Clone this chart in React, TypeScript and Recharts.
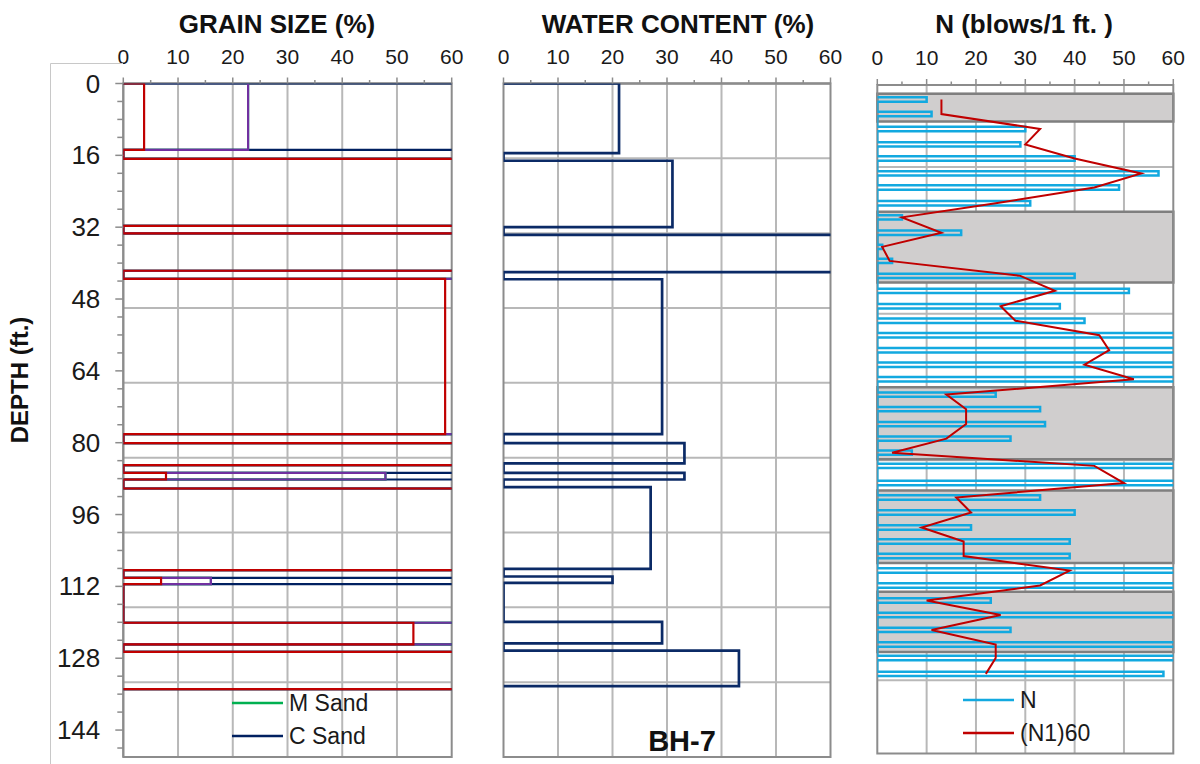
import { ScatterChart, Scatter, XAxis, YAxis, CartesianGrid, ReferenceArea, Legend } from 'recharts';

const FONT = '"Liberation Sans", Arial, sans-serif';

// ---- grain size (cumulative %, one outline per sample interval) ----
const grainTop = [0, 16.8, 33.4, 43.5, 80.1, 86.7, 90.2, 110.1, 120.1, 126.6];
const grainBottom = [14.8, 31.7, 41.7, 78.1, 85.0, 88.2, 108.4, 111.5, 124.9, 134.9];
const finesCum = [3.8, 100, 100, 58.8, 100, 7.8, 100, 6.9, 53, 100];
const fSandCum = [22.8, 100, 100, 100, 100, 47.9, 100, 16, 100, 100];
const mSandCum = [22.8, 100, 100, 100, 100, 47.9, 100, 16, 100, 100];
const cSandCum = [100, 100, 100, 100, 100, 100, 100, 100, 100, 100];

// ---- water content ----
const wcTop = [0, 17.2, 33.7, 43.6, 80.1, 86.7, 89.9, 109.8, 119.9, 126.3];
const wcBottom = [15.5, 32.0, 42.0, 78.1, 84.6, 88.2, 108.1, 111.2, 124.7, 134.2];
const waterContent = [21.2, 31, 75, 29.1, 33.2, 33.2, 27, 20, 29.1, 43.2];

// ---- SPT ----
const nDepth = [1.3, 4.6, 8.0, 11.5, 14.7, 18.1, 21.3, 24.9, 28.1, 31.6, 34.8, 38.0, 41.4, 44.8, 48.3, 51.6, 54.9, 58.3, 61.6, 64.9,
    68.4, 71.7, 75.1, 78.4, 81.6, 84.6, 88.5, 91.8, 95.2, 98.6, 101.8, 105.1, 108.4, 111.8, 115.2, 118.5, 121.9, 125.2, 128.3, 131.9];
const nBlows = [10, 11, 30, 29, 40, 57, 49, 31, 5, 17, 1, 3, 40, 51, 37, 42, 100, 100, 100, 100,
    24, 33, 34, 27, 7, 100, 100, 33, 40, 19, 39, 39, 100, 100, 23, 100, 27, 100, 100, 58];
const n160 = [13, 13, 33, 30, 40, 53.5, 44, 24, 5, 13, 1, 2.5, 29, 36, 25, 28, 45, 47, 42, 52,
    14, 18, 18, 14, 3, 44, 50, 16, 19, 9, 17.5, 17.5, 39, 33, 10, 25, 11, 24, 24, 22];
const layerTop = [0, 26.8, 66.7, 90.2, 113.2];
const layerBottom = [6.3, 42.9, 83.1, 106.7, 126.9];

// ---- axes ----
const pctTicks = [0, 5, 10, 15, 20, 25, 30, 35, 40, 45, 50, 55, 60];
const pctGrid = [10, 20, 30, 40, 50];
const depthTicks = [0, 4, 8, 12, 16, 20, 24, 28, 32, 36, 40, 44, 48, 52, 56, 60, 64, 68, 72, 76, 80, 84, 88, 92, 96, 100,
    104, 108, 112, 116, 120, 124, 128, 132, 136, 140, 144, 148];
const depthGrid = [0, 16.67, 33.33, 50, 66.67, 83.33, 100, 116.67, 133.33];

const grainLegend = [
    { name: 'M Sand', color: '#00B050' },
    { name: 'C Sand', color: '#002060' },
];
const nLegend = [
    { name: 'N', color: '#12A9E0' },
    { name: '(N1)60', color: '#C00000' },
];

const AXIS = { stroke: '#8C8C8C', strokeWidth: 2 };
const GRID = '#B8B8B8';

// closed outline per interval, joined along the zero line
function outline(tops: number[], bottoms: number[], vals: number[]) {
    const pts: { x: number; y: number }[] = [];
    vals.forEach((v, i) => {
        pts.push({ x: 0, y: tops[i] }, { x: v, y: tops[i] }, { x: v, y: bottoms[i] }, { x: 0, y: bottoms[i] });
    });
    return pts;
}

const noDot = () => <g />;

function TopTick(props: any) {
    const { x, y, payload } = props;
    const major = payload.value % 10 === 0;
    const axisY = y + 20;
    return (
        <g>
            <line x1={x} x2={x} y1={axisY} y2={axisY - (major ? 6 : 3.5)} stroke="#8C8C8C" strokeWidth={1.5} />
            {major && (
                <text x={x} y={y} textAnchor="middle" fontSize={21} fill="#1a1a1a" fontFamily={FONT}>
                    {payload.value}
                </text>
            )}
        </g>
    );
}

function DepthTick(props: any) {
    const { x, y, payload } = props;
    const major = payload.value % 16 === 0;
    const axisX = x + 23;
    return (
        <g>
            <line x1={axisX} x2={axisX - (major ? 8 : 6)} y1={y} y2={y} stroke="#8C8C8C" strokeWidth={1.5} />
            {major && (
                <text x={x} y={y} dy="0.35em" textAnchor="end" fontSize={26} fill="#1a1a1a" fontFamily={FONT}>
                    {payload.value}
                </text>
            )}
        </g>
    );
}

function LegendBox({ items }: { items: { name: string; color: string }[] }) {
    return (
        <svg width={170} height={70}>
            {items.map((it, i) => (
                <g key={it.name}>
                    <line x1={8} x2={59} y1={18 + i * 33} y2={18 + i * 33} stroke={it.color} strokeWidth={2.5} />
                    <text x={65} y={18 + i * 33} dy="0.36em" fontSize={23} fill="#1a1a1a" fontFamily={FONT}>
                        {it.name}
                    </text>
                </g>
            ))}
        </svg>
    );
}

function GrainChart() {
    return (
        <ScatterChart width={470} height={764} margin={{ top: 43.5, right: 18.3, bottom: 7, left: 23.3 }}>
            <CartesianGrid stroke={GRID} strokeWidth={2} horizontalValues={depthGrid} verticalValues={pctGrid} />
            <XAxis type="number" dataKey="x" orientation="top" domain={[0, 60]} ticks={pctTicks} interval={0}
                allowDataOverflow height={40} tickSize={6} tickMargin={14} tickLine={false}
                tick={(p: any) => <TopTick {...p} />} axisLine={AXIS} />
            <YAxis type="number" dataKey="y" domain={[0, 150]} reversed ticks={depthTicks} interval={0}
                allowDataOverflow width={100} tickSize={8} tickMargin={15} tickLine={false}
                tick={(p: any) => <DepthTick {...p} />} axisLine={AXIS} />
            <ReferenceArea x1={0} x2={60} y1={0} y2={150} fill="none" stroke="#8C8C8C" strokeWidth={2} />
            <Scatter name="C Sand" data={outline(grainTop, grainBottom, cSandCum)} shape={noDot}
                line={{ stroke: '#002060', strokeWidth: 2.2 }} isAnimationActive={false} />
            <Scatter name="M Sand" data={outline(grainTop, grainBottom, mSandCum)} shape={noDot}
                line={{ stroke: '#00B050', strokeWidth: 2.2 }} isAnimationActive={false} />
            <Scatter name="F Sand" data={outline(grainTop, grainBottom, fSandCum)} shape={noDot}
                line={{ stroke: '#7030A0', strokeWidth: 2.2 }} isAnimationActive={false} />
            <Scatter name="Fines" data={outline(grainTop, grainBottom, finesCum)} shape={noDot}
                line={{ stroke: '#C00000', strokeWidth: 2.2 }} isAnimationActive={false} />
            <Legend layout="vertical" align="center" verticalAlign="middle"
                wrapperStyle={{ left: 224, top: 685, width: 170 }}
                content={() => <LegendBox items={grainLegend} />} />
        </ScatterChart>
    );
}

function WaterChart() {
    return (
        <ScatterChart width={380} height={764} margin={{ top: 43.5, right: 19.5, bottom: 7, left: 33.5 }}>
            <CartesianGrid stroke={GRID} strokeWidth={2} horizontalValues={depthGrid} verticalValues={pctGrid} />
            <XAxis type="number" dataKey="x" orientation="top" domain={[0, 60]} ticks={pctTicks} interval={0}
                allowDataOverflow height={40} tickSize={6} tickMargin={14} tickLine={false}
                tick={(p: any) => <TopTick {...p} />} axisLine={AXIS} />
            <YAxis type="number" dataKey="y" domain={[0, 150]} reversed hide allowDataOverflow />
            <ReferenceArea x1={0} x2={60} y1={0} y2={150} fill="none" stroke="#8C8C8C" strokeWidth={2} />
            <Scatter name="Water content" data={outline(wcTop, wcBottom, waterContent)} shape={noDot}
                line={{ stroke: '#0B2A66', strokeWidth: 2.7 }} isAnimationActive={false} />
        </ScatterChart>
    );
}

function SptChart() {
    const bars = outline(nDepth.map(d => d - 0.5), nDepth.map(d => d + 0.5), nBlows);
    const corrected = nDepth.map((d, i) => ({ x: n160[i], y: d }));
    return (
        <ScatterChart width={350} height={764} margin={{ top: 45, right: 26.7, bottom: 10.5, left: 27.3 }}>
            <CartesianGrid stroke={GRID} strokeWidth={2} horizontalValues={depthGrid} verticalValues={pctGrid} />
            <XAxis type="number" dataKey="x" orientation="top" domain={[0, 60]} ticks={pctTicks} interval={0}
                allowDataOverflow height={40} tickSize={6} tickMargin={14} tickLine={false}
                tick={(p: any) => <TopTick {...p} />} axisLine={AXIS} />
            <YAxis type="number" dataKey="y" domain={[-2, 150]} reversed hide allowDataOverflow />
            {layerTop.map((t, i) => (
                <ReferenceArea key={i} x1={0} x2={60} y1={t} y2={layerBottom[i]} fill="#D0CECE" fillOpacity={1}
                    stroke="#7F7F7F" strokeWidth={2.5} />
            ))}
            <ReferenceArea x1={0} x2={60} y1={-2} y2={150} fill="none" stroke="#8C8C8C" strokeWidth={2} />
            <Scatter name="N" data={bars} shape={noDot}
                line={{ stroke: '#12A9E0', strokeWidth: 2.5 }} isAnimationActive={false} />
            <Scatter name="(N1)60" data={corrected} shape={noDot}
                line={{ stroke: '#C00000', strokeWidth: 2 }} isAnimationActive={false} />
            <Legend layout="vertical" align="center" verticalAlign="middle"
                wrapperStyle={{ left: 105, top: 682, width: 170 }}
                content={() => <LegendBox items={nLegend} />} />
        </ScatterChart>
    );
}

export default function App() {
    return (
        <div style={{ position: 'absolute', left: 0, top: 0, width: 1200, height: 764, background: '#fff', fontFamily: FONT }}>
            <div style={{ position: 'absolute', left: 0, top: 0 }}><GrainChart /></div>
            <div style={{ position: 'absolute', left: 470, top: 0 }}><WaterChart /></div>
            <div style={{ position: 'absolute', left: 850, top: 0 }}><SptChart /></div>
            <svg width={1200} height={764} style={{ position: 'absolute', left: 0, top: 0, pointerEvents: 'none' }}>
                <path d="M50.5,764 V63.5 H123" fill="none" stroke="#C8C8C8" strokeWidth={1} />
                <text x={277} y={33} textAnchor="middle" fontSize={26} fontWeight="bold" fill="#111" fontFamily={FONT}>GRAIN SIZE (%)</text>
                <text x={678} y={33} textAnchor="middle" fontSize={26} fontWeight="bold" fill="#111" fontFamily={FONT}>WATER CONTENT (%)</text>
                <text x={1024} y={33} textAnchor="middle" fontSize={26} fontWeight="bold" fill="#111" fontFamily={FONT}>N (blows/1 ft. )</text>
                <text x={682} y={751} textAnchor="middle" fontSize={29} fontWeight="bold" fill="#111" fontFamily={FONT}>BH-7</text>
                <text transform="translate(28,380) rotate(-90)" textAnchor="middle" fontSize={24} fontWeight="bold" fill="#111" fontFamily={FONT}>DEPTH (ft.)</text>
            </svg>
        </div>
    );
}
